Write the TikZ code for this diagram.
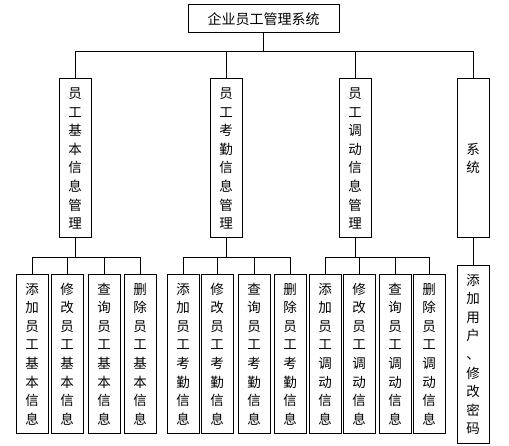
\documentclass[tikz,border=0pt]{standalone}
\usepackage{fontspec}
\newfontfamily\cjk{Noto Sans CJK SC}
\begin{document}
\begin{tikzpicture}[x=1pt,y=-1pt,line width=1pt,
    every node/.style={draw,inner sep=0pt,align=center,font=\cjk\fontsize{13.5}{18.6}\selectfont},
    topbox/.style={minimum width=151pt,minimum height=28pt,font=\cjk\fontsize{14}{16}\selectfont},
    modbox/.style={minimum width=32pt,minimum height=159pt},
    leafbox/.style={minimum width=32pt,minimum height=158pt}]
        \useasboundingbox (0,0) rectangle (509,446);

        % top
        \node (top) at (263.5,19) [topbox] {企业员工管理系统};

        % modules
        \node (ma) at (75,158.5) [modbox] {员\\工\\基\\本\\信\\息\\管\\理};
        \node (mb) at (226,158.5) [modbox] {员\\工\\考\\勤\\信\\息\\管\\理};
        \node (mc) at (355,158.5) [modbox] {员\\工\\调\\动\\信\\息\\管\\理};
        \node (md) at (473,158.5) [modbox] {系\\统};

        % leaves
        \foreach \x/\v/\w [count=\i] in {32/添/加, 67/修/改, 104/查/询, 140/删/除}
            \node (a\i) at (\x,354) [leafbox] {\v\\\w\\员\\工\\基\\本\\信\\息};
        \foreach \x/\v/\w [count=\i] in {183/添/加, 217/修/改, 254/查/询, 290/删/除}
            \node (b\i) at (\x,354) [leafbox] {\v\\\w\\员\\工\\考\\勤\\信\\息};
        \foreach \x/\v/\w [count=\i] in {325/添/加, 359/修/改, 395/查/询, 429/删/除}
            \node (c\i) at (\x,354) [leafbox] {\v\\\w\\员\\工\\调\\动\\信\\息};
        \node (d1) at (473,354.5) [leafbox, minimum height=177pt] {添\\加\\用\\户\\、\\修\\改\\密\\码};

        % connectors
        \foreach \m in {ma,mb,mc,md}
            \draw (top.south) -- ++(0,18) -| (\m.north);
        \foreach \g in {a,b,c}
            \foreach \i in {1,...,4}
                \draw (m\g.south) -- ++(0,19) -| (\g\i.north);
        \draw (md.south) -- (d1.north);
    \end{tikzpicture}
\end{document}
